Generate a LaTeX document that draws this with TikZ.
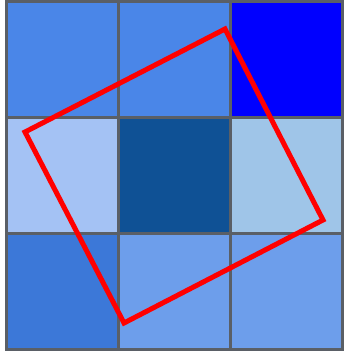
\documentclass[tikz,border=0pt]{standalone}
\begin{document}
\begin{tikzpicture}[x=1pt,y=-1pt,
  cell/.style={draw=gridgray,line width=3pt},
  redsq/.style={draw=red,line width=5pt,line join=miter}]
\definecolor{gridgray}{HTML}{5A5F66}
\definecolor{cA}{HTML}{4A86E8}
\definecolor{cB}{HTML}{0000FF}
\definecolor{cC}{HTML}{A4C2F4}
\definecolor{cD}{HTML}{0F5195}
\definecolor{cE}{HTML}{9FC5E8}
\definecolor{cF}{HTML}{3C78D8}
\definecolor{cG}{HTML}{6D9EEB}
\useasboundingbox (0,0) rectangle (343,352);
\fill[white] (0,0) rectangle (343,352);
\path[cell,fill=cA] (6,2) rectangle (118,118);
\path[cell,fill=cA] (118,2) rectangle (230,118);
\path[cell,fill=cB] (230,2) rectangle (342,118);
\path[cell,fill=cC] (6,118) rectangle (118,233);
\path[cell,fill=cD] (118,118) rectangle (230,233);
\path[cell,fill=cE] (230,118) rectangle (342,233);
\path[cell,fill=cF] (6,233) rectangle (118,349);
\path[cell,fill=cG] (118,233) rectangle (230,349);
\path[cell,fill=cG] (230,233) rectangle (342,349);
\coordinate (p1) at (225,29);
\coordinate (p2) at (323,220);
\coordinate (p3) at (124,323);
\coordinate (p4) at (25,132);
\draw[redsq] (p1) -- (p2) -- (p3) -- (p4) -- cycle;
\end{tikzpicture}
\end{document}
